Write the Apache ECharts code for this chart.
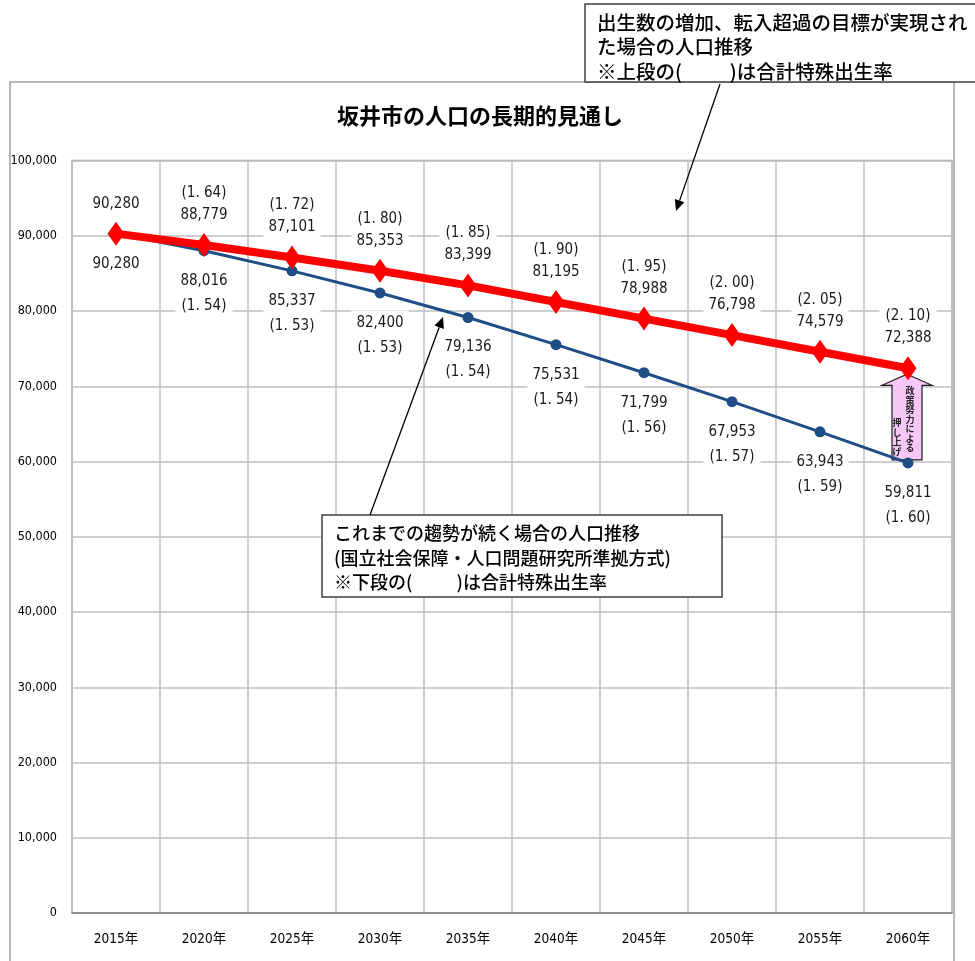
<!DOCTYPE html>
<html>
<head>
<meta charset="utf-8">
<title>坂井市の人口の長期的見通し</title>
<script src="https://cdn.jsdelivr.net/npm/echarts@6/dist/echarts.min.js"></script>
<style>
  html, body { margin: 0; padding: 0; background: #ffffff; }
  #chart { width: 975px; height: 961px; }
</style>
</head>
<body>
<div id="chart"></div>
<script>
// Years on the horizontal axis
const years = ['2015年', '2020年', '2025年', '2030年', '2035年', '2040年', '2045年', '2050年', '2055年', '2060年'];

// Population if the birth and in-migration targets are met (upper line)
const targetPop = [90280, 88779, 87101, 85353, 83399, 81195, 78988, 76798, 74579, 72388];
// Total fertility rate shown above each upper point
const targetTfr = [null, 1.64, 1.72, 1.80, 1.85, 1.90, 1.95, 2.00, 2.05, 2.10];

// Population if current trends continue (lower line)
const trendPop = [90280, 88016, 85337, 82400, 79136, 75531, 71799, 67953, 63943, 59811];
// Total fertility rate shown below each lower point
const trendTfr = [null, 1.54, 1.53, 1.53, 1.54, 1.54, 1.56, 1.57, 1.59, 1.60];

// Value axis ticks
const yMin = 0, yMax = 100000, yStep = 10000;

const JP = "'Noto Sans CJK JP', 'Noto Sans', sans-serif";
const NUM = "'Liberation Sans Narrow', 'DejaVu Sans Condensed', 'Noto Sans CJK JP', sans-serif";

const fmtNum = v => v.toLocaleString('en-US');
const fmtTfr = v => '(' + v.toFixed(2).replace('.', '. ') + ')';

const chart = echarts.init(document.getElementById('chart'), null, { renderer: 'canvas' });

// Builds a straight arrow (shaft + filled head) pointing at (x2, y2)
function arrow(x1, y1, x2, y2) {
  const dx = x2 - x1, dy = y2 - y1, len = Math.hypot(dx, dy);
  const ux = dx / len, uy = dy / len, hl = 11, hw = 5;
  const bx = x2 - ux * hl, by = y2 - uy * hl;
  return [
    { type: 'line', z: 20, shape: { x1: x1, y1: y1, x2: bx, y2: by },
      style: { stroke: '#000', lineWidth: 1.3 } },
    { type: 'polygon', z: 20, shape: { points: [[x2, y2], [bx - uy * hw, by + ux * hw], [bx + uy * hw, by - ux * hw]] },
      style: { fill: '#000' } }
  ];
}

function calloutBox(x, y, w, h, lines, fontSize, lineHeight) {
  return [
    { type: 'rect', z: 15, shape: { x: x, y: y, width: w, height: h },
      style: { fill: '#fff', stroke: '#404040', lineWidth: 1.5 } },
    { type: 'text', z: 16, left: x + 12, top: y + 6,
      style: { text: lines.join('\n'), font: '500 ' + fontSize + 'px ' + JP, fill: '#000', lineHeight: lineHeight } }
  ];
}

const baseGraphic = [
  // outer frame of the chart area
  { type: 'rect', z: -5, shape: { x: 10, y: 82, width: 944, height: 900 },
    style: { fill: 'none', stroke: '#b8b8b8', lineWidth: 2 } },
  ...calloutBox(585, 4, 400, 78,
    ['出生数の増加、転入超過の目標が実現され', 'た場合の人口推移', '※上段の(　　  )は合計特殊出生率'], 19.5, 24.5),
  ...arrow(720, 84, 676, 211),
  ...calloutBox(322, 515, 400, 82,
    ['これまでの趨勢が続く場合の人口推移', '(国立社会保障・人口問題研究所準拠方式)', '※下段の(　　  )は合計特殊出生率'], 18, 24.5),
  ...arrow(370, 515, 443, 317)
];

const option = {
  animation: false,
  backgroundColor: '#ffffff',
  title: {
    text: '坂井市の人口の長期的見通し',
    left: 332, top: 100,
    textStyle: { fontFamily: JP, fontSize: 22, fontWeight: 'bold', color: '#000' }
  },
  grid: {
    left: 72, right: 23, top: 160.5, bottom: 48,
    show: true, borderColor: '#a6a6a6', borderWidth: 1.5
  },
  xAxis: {
    type: 'category',
    data: years,
    boundaryGap: true,
    axisLine: { lineStyle: { color: '#808080', width: 1.5 } },
    axisTick: { show: false },
    splitLine: { show: true, lineStyle: { color: '#bfbfbf', width: 1.5 } },
    axisLabel: { color: '#000', fontFamily: NUM, fontSize: 13.5, margin: 20, interval: 0 }
  },
  yAxis: {
    type: 'value',
    min: yMin, max: yMax, interval: yStep,
    axisLine: { show: false },
    axisTick: { show: false },
    splitLine: { lineStyle: { color: '#bfbfbf', width: 1.5 } },
    axisLabel: { color: '#000', fontFamily: NUM, fontSize: 12.5, margin: 15, formatter: v => fmtNum(v) }
  },
  series: [
    {
      name: 'target',
      type: 'line',
      data: targetPop,
      z: 4,
      symbol: 'diamond',
      symbolSize: [17, 24],
      lineStyle: { color: '#ff0000', width: 8 },
      itemStyle: { color: '#ff0000' },
      label: {
        show: true, position: 'top', distance: 6,
        formatter: p => (targetTfr[p.dataIndex] == null ? '' : fmtTfr(targetTfr[p.dataIndex]) + '\n') + fmtNum(p.value),
        fontFamily: NUM, fontSize: 15, color: '#1a1a1a', lineHeight: 22,
        backgroundColor: '#fff', padding: [1, 5]
      }
    },
    {
      name: 'trend',
      type: 'line',
      data: trendPop,
      z: 3,
      symbol: 'circle',
      symbolSize: 11,
      lineStyle: { color: '#1f4e86', width: 3 },
      itemStyle: { color: '#1f4e86' },
      label: {
        show: true, position: 'bottom', distance: 12,
        formatter: p => fmtNum(p.value) + (trendTfr[p.dataIndex] == null ? '' : '\n' + fmtTfr(trendTfr[p.dataIndex])),
        fontFamily: NUM, fontSize: 15, color: '#1a1a1a', lineHeight: 25,
        backgroundColor: '#fff', padding: [0, 5]
      }
    }
  ],
  graphic: baseGraphic
};

chart.setOption(option);

// Upward block arrow between the two 2060 values ("policy uplift")
const lastIdx = years.length - 1;
const upperPt = chart.convertToPixel({ seriesIndex: 0 }, [lastIdx, targetPop[lastIdx]]);
const lowerPt = chart.convertToPixel({ seriesIndex: 1 }, [lastIdx, trendPop[lastIdx]]);
const cx = upperPt[0] - 1, tipY = upperPt[1] + 6, baseY = lowerPt[1] - 3;
const headH = 11, headW = 25, shaftW = 15;
const pinkArrow = [
  { type: 'polygon', z: 1, shape: { points: [
      [cx, tipY], [cx + headW, tipY + headH], [cx + shaftW, tipY + headH], [cx + shaftW, baseY],
      [cx - shaftW, baseY], [cx - shaftW, tipY + headH], [cx - headW, tipY + headH]] },
    style: { fill: '#f7c8f7', stroke: '#1a1a1a', lineWidth: 1.2 } },
  { type: 'text', z: 2, x: cx + 3, y: tipY + 12,
    style: { text: '政\n策\n努\n力\nに\nよ\nる', font: 'bold 9px ' + JP, fill: '#222', lineHeight: 9.5, align: 'center' } },
  { type: 'text', z: 2, x: cx - 10, y: tipY + 44,
    style: { text: '押\nし\n上\nげ', font: 'bold 9px ' + JP, fill: '#222', lineHeight: 9.5, align: 'center' } }
];
chart.setOption({ graphic: baseGraphic.concat(pinkArrow) }, { replaceMerge: ['graphic'] });
</script>
</body>
</html>
